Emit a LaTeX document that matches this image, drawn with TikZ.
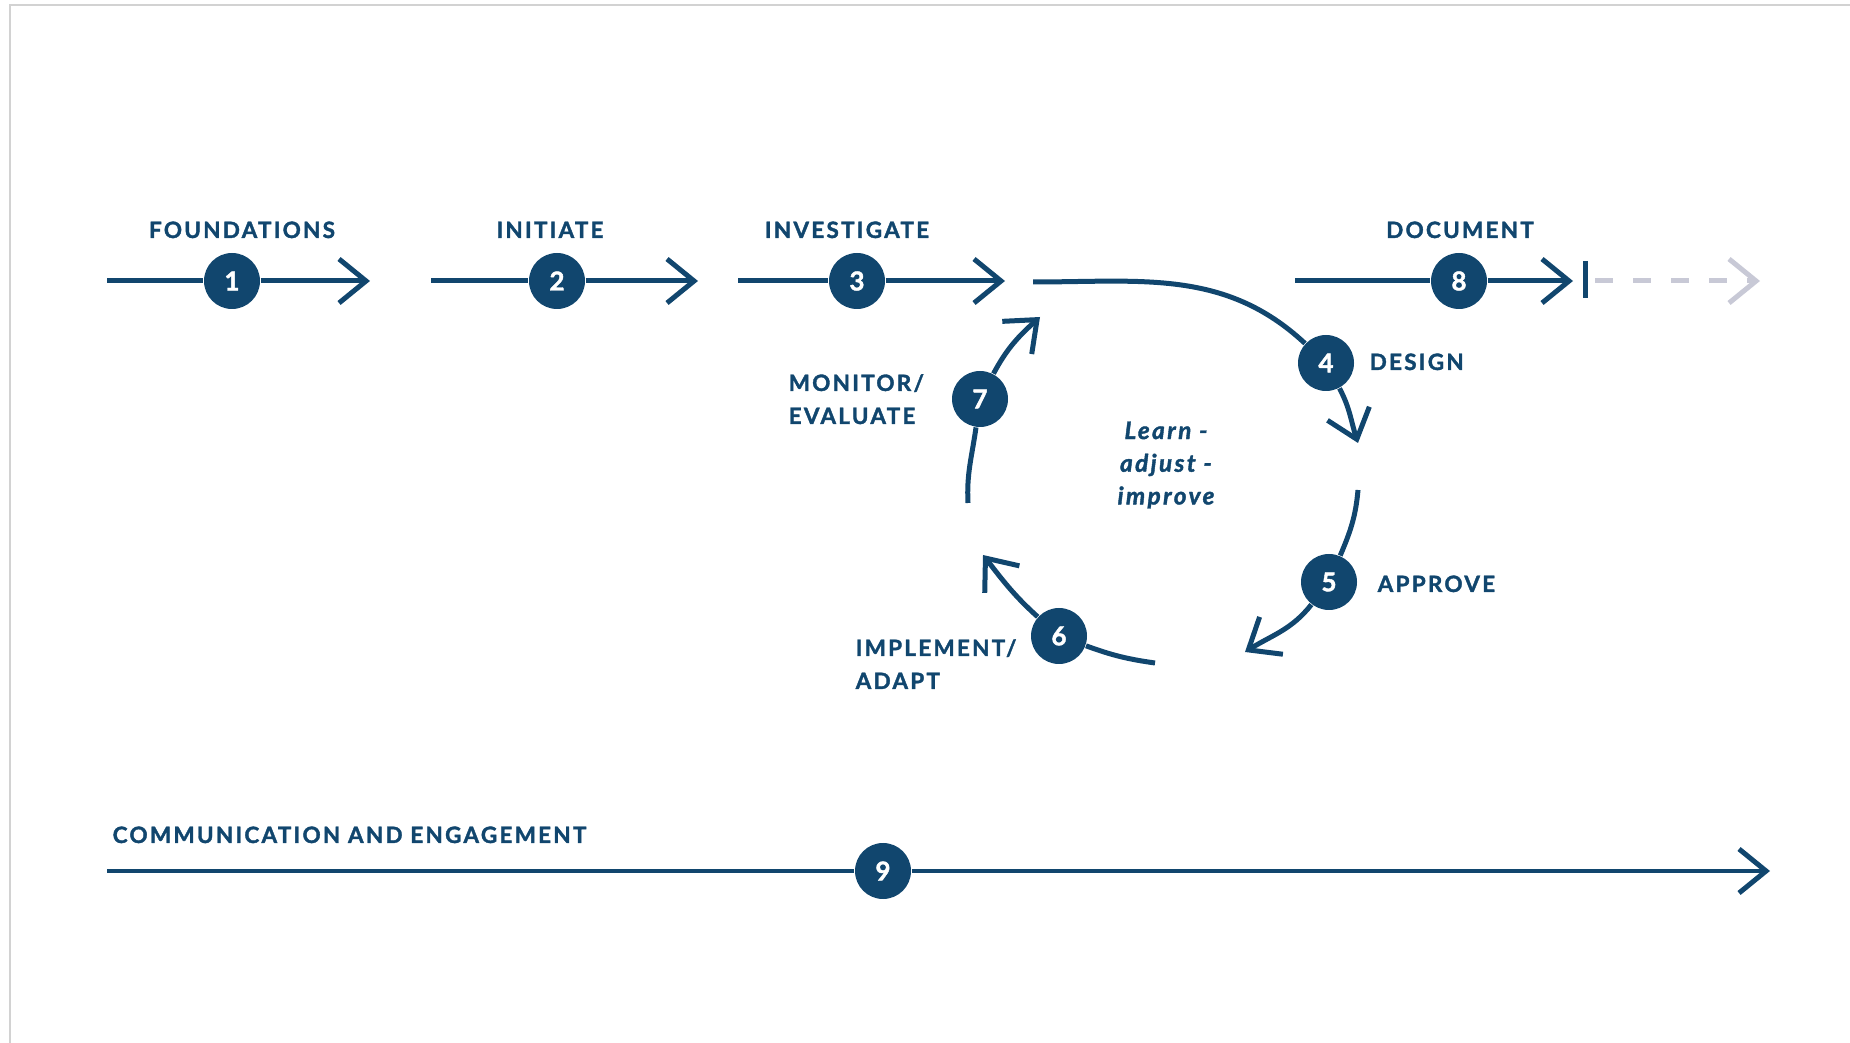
\documentclass[tikz,border=0pt]{standalone}
\usepackage{fontspec}
\setmainfont{Lato}
\newfontfamily\labelfont[LetterSpace=10,BoldFeatures={FakeBold=1.6},BoldItalicFeatures={FakeBold=1.6}]{Lato}
\usepackage{tikz}
\usetikzlibrary{arrows.meta}
\definecolor{deepblue}{RGB}{17,70,110}
\definecolor{paleblue}{RGB}{200,201,214}
\newcommand{\MainColor}{deepblue}

\begin{document}
\begin{tikzpicture}[>={Straight Barb[length=2.7mm,width=4.4mm]},x=1.0cm,y=1.0cm,
  flow/.style={draw=\MainColor,line width=0.5mm},
  ghost/.style={draw=paleblue,line width=0.5mm,dash pattern=on 1.8mm off 2mm},
  num/.style={circle,fill=\MainColor,text=white,inner sep=0pt,minimum size=5.6mm,
    font=\labelfont\bfseries\fontsize{7.4}{8}\selectfont},
  lbl/.style={text=\MainColor,inner sep=0pt,
    font=\labelfont\bfseries\fontsize{6.4}{9.4}\selectfont},
  note/.style={lbl,font=\labelfont\bfseries\itshape\fontsize{6.9}{9.3}\selectfont}]
  \useasboundingbox (0,0) rectangle (18.5,-10.43);
  \draw [gray!35,line width=0.25mm] (0.10,-10.43) -- (0.10,-0.05) -- (18.5,-0.05);
  % step circles
  \node[num] (n1) at (2.32,-2.81) {1};
  \node[num] (n2) at (5.57,-2.81) {2};
  \node[num] (n3) at (8.57,-2.81) {3};
  \node[num] (n4) at (13.26,-3.63) {4};
  \node[num] (n5) at (13.29,-5.82) {5};
  \node[num] (n6) at (10.59,-6.36) {6};
  \node[num] (n7) at (9.80,-3.99) {7};
  \node[num] (n8) at (14.59,-2.81) {8};
  \node[num] (n9) at (8.83,-8.71) {9};
  % ends of the lines
  \coordinate (a1) at (1.07,-2.81);
  \coordinate (b1) at (3.70,-2.81);
  \coordinate (a2) at (4.31,-2.81);
  \coordinate (b2) at (6.98,-2.81);
  \coordinate (a3) at (7.38,-2.81);
  \coordinate (b3) at (10.05,-2.81);
  \coordinate (s4) at (10.33,-2.82);
  \coordinate (e4) at (13.58,-4.43);
  \coordinate (s5) at (13.58,-4.90);
  \coordinate (e5) at (12.45,-6.52);
  \coordinate (s6) at (11.55,-6.63);
  \coordinate (e6) at (9.83,-5.55);
  \coordinate (s7) at (9.68,-5.03);
  \coordinate (e7) at (10.40,-3.17);
  \coordinate (a8) at (12.95,-2.81);
  \coordinate (b8) at (15.73,-2.81);
  \coordinate (t8) at (15.85,-2.61);
  \coordinate (u8) at (15.85,-2.98);
  \coordinate (f8) at (15.95,-2.81);
  \coordinate (g8) at (17.60,-2.81);
  \coordinate (a9) at (1.07,-8.71);
  \coordinate (b9) at (17.70,-8.71);
  % straight steps
  \draw[flow] (a1) -- (n1);
  \draw[flow,->] (n1) -- (b1);
  \draw[flow] (a2) -- (n2);
  \draw[flow,->] (n2) -- (b2);
  \draw[flow] (a3) -- (n3);
  \draw[flow,->] (n3) -- (b3);
  \draw[flow] (a8) -- (n8);
  \draw[flow,->] (n8) -- (b8);
  \draw[flow] (t8) -- (u8);
  \draw[ghost,->] (f8) -- (g8);
  \draw[flow] (a9) -- (n9);
  \draw[flow,->] (n9) -- (b9);
  % the loop
  \draw[flow] (s4) to[out=0,in=137] (n4);
  \draw[flow,->] (n4) to[out=-62,in=108] (e4);
  \draw[flow] (s5) to[out=-95,in=67] (n5);
  \draw[flow,->] (n5) to[out=-128,in=32] (e5);
  \draw[flow] (s6) to[out=172,in=-20] (n6);
  \draw[flow,->] (n6) to[out=138,in=-52] (e6);
  \draw[flow] (s7) to[out=93,in=-98] (n7);
  \draw[flow,->] (n7) to[out=62,in=222] (e7);
  % labels
  \node[lbl,anchor=base] (l1) at (2.42,-2.38) {FOUNDATIONS};
  \node[lbl,anchor=base] (l2) at (5.50,-2.38) {INITIATE};
  \node[lbl,anchor=base] (l3) at (8.47,-2.38) {INVESTIGATE};
  \node[lbl,anchor=base] (l8) at (14.60,-2.38) {DOCUMENT};
  \node[lbl,anchor=base west] (l4) at (13.69,-3.70) {DESIGN};
  \node[lbl,anchor=base west] (l5) at (13.77,-5.92) {APPROVE};
  \node[lbl,anchor=base west,align=left] (l7) at (7.88,-4.24) {MONITOR/\\EVALUATE};
  \node[lbl,anchor=base west,align=left] (l6) at (8.55,-6.89) {IMPLEMENT/\\ADAPT};
  \node[lbl,anchor=base west] (l9) at (1.12,-8.43) {COMMUNICATION AND ENGAGEMENT};
  \node[note,align=center] (mid) at (11.66,-4.65) {Learn -\\adjust -\\improve};
\end{tikzpicture}
\end{document}
